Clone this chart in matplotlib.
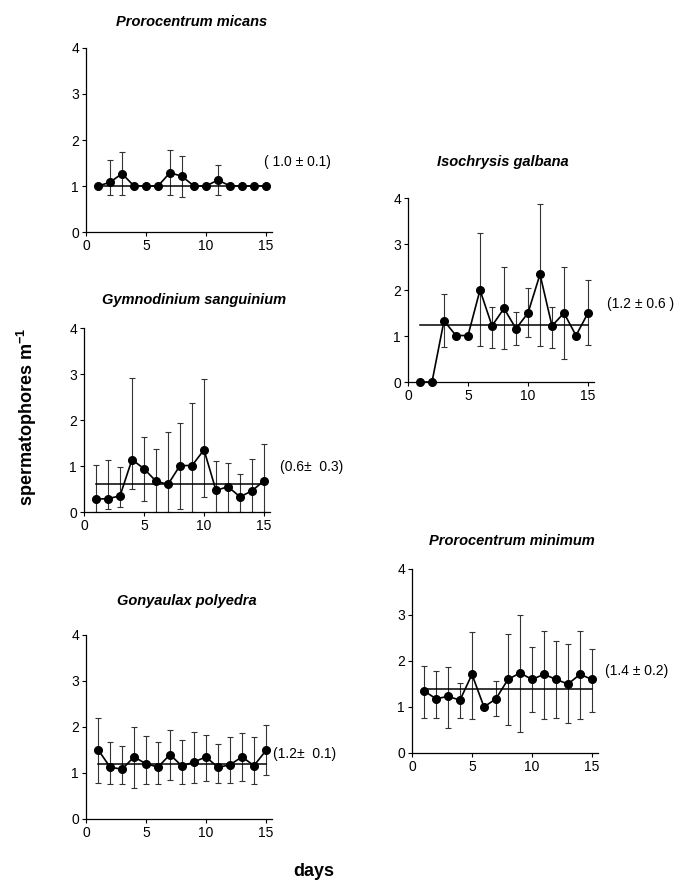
import matplotlib
matplotlib.use("Agg")
import matplotlib.pyplot as plt

plt.rcParams['font.family'] = ['Liberation Sans', 'DejaVu Sans']

days = list(range(1, 16))
x_ticks = [0, 5, 10, 15]
y_ticks = [0, 1, 2, 3, 4]

# Prorocentrum micans
micans_mean = [1.0, 1.08, 1.27, 1.0, 1.0, 1.0, 1.29, 1.21, 1.0, 1.0, 1.13, 1.0, 1.0, 1.0, 1.0]
micans_upper = [1.0, 1.57, 1.74, 1.0, 1.0, 1.0, 1.78, 1.65, 1.0, 1.0, 1.45, 1.0, 1.0, 1.0, 1.0]
micans_lower = [1.0, 0.8, 0.81, 1.0, 1.0, 1.0, 0.8, 0.76, 1.0, 1.0, 0.8, 1.0, 1.0, 1.0, 1.0]
micans_avg = 1.0

# Isochrysis galbana
galbana_mean = [0, 0, 1.33, 1.01, 1.01, 2.0, 1.22, 1.6, 1.16, 1.5, 2.34, 1.22, 1.5, 1.01, 1.5]
galbana_upper = [0, 0, 1.91, 1.01, 1.01, 3.24, 1.64, 2.5, 1.52, 2.04, 3.87, 1.64, 2.5, 1.01, 2.22]
galbana_lower = [0, 0, 0.77, 1.01, 1.01, 0.79, 0.75, 0.72, 0.8, 0.97, 0.78, 0.75, 0.5, 1.01, 0.8]
galbana_avg = 1.23

# Gymnodinium sanguinium
sang_mean = [0.28, 0.29, 0.35, 1.14, 0.94, 0.67, 0.6, 1.01, 1.01, 1.35, 0.47, 0.55, 0.33, 0.46, 0.68]
sang_upper = [1.02, 1.13, 0.98, 2.91, 1.64, 1.38, 1.73, 1.93, 2.36, 2.89, 1.11, 1.07, 0.82, 1.16, 1.47]
sang_lower = [0, 0.07, 0.11, 0.51, 0.23, 0, 0, 0.07, 0, 0.33, 0, 0, 0, 0, 0]
sang_avg = 0.6

# Prorocentrum minimum
minimum_mean = [1.35, 1.18, 1.23, 1.15, 1.71, 1.0, 1.18, 1.6, 1.74, 1.6, 1.71, 1.6, 1.5, 1.71, 1.6]
minimum_upper = [1.9, 1.78, 1.88, 1.52, 2.64, 1.0, 1.56, 2.58, 3.0, 2.3, 2.65, 2.44, 2.37, 2.65, 2.26]
minimum_lower = [0.76, 0.76, 0.54, 0.76, 0.75, 1.0, 0.8, 0.6, 0.46, 0.9, 0.75, 0.76, 0.65, 0.75, 0.9]
minimum_avg = 1.4

# Gonyaulax polyedra
poly_mean = [1.51, 1.13, 1.08, 1.35, 1.2, 1.13, 1.4, 1.15, 1.24, 1.35, 1.12, 1.18, 1.35, 1.16, 1.49]
poly_upper = [2.2, 1.67, 1.59, 1.99, 1.81, 1.67, 1.94, 1.71, 1.89, 1.83, 1.64, 1.78, 1.86, 1.78, 2.04]
poly_lower = [0.79, 0.76, 0.76, 0.68, 0.77, 0.77, 0.84, 0.77, 0.79, 0.82, 0.79, 0.79, 0.82, 0.76, 0.95]
poly_avg = 1.2

W, H = 679, 884
fig = plt.figure(figsize=(W / 100, H / 100), dpi=100)

panels = [
    # title, mean, upper, lower, avg, annotation, axes (left px, bottom px from top), title pos, annot pos (data)
    ("Prorocentrum micans", micans_mean, micans_upper, micans_lower, micans_avg,
     "( 1.0 \u00b1 0.1)", (86, 232), (192, 22), (14.8, 1.53)),
    ("Isochrysis galbana", galbana_mean, galbana_upper, galbana_lower, galbana_avg,
     "(1.2 \u00b1 0.6 )", (408, 382), (503, 162), (16.6, 1.7)),
    ("Gymnodinium sanguinium", sang_mean, sang_upper, sang_lower, sang_avg,
     "(0.6\u00b1  0.3)", (84, 512), (194, 300), (16.3, 0.98)),
    ("Prorocentrum minimum", minimum_mean, minimum_upper, minimum_lower, minimum_avg,
     "(1.4 \u00b1 0.2)", (412, 753), (512, 541), (16.1, 1.78)),
    ("Gonyaulax polyedra", poly_mean, poly_upper, poly_lower, poly_avg,
     "(1.2\u00b1  0.1)", (86, 819), (187, 601), (15.6, 1.41)),
]

ax_w, ax_h = 186, 184

for title, mean, upper, lower, avg, annot, (lx, by), (tx, ty), (axx, axy) in panels:
    ax = fig.add_axes([lx / W, (H - by) / H, ax_w / W, ax_h / H])
    yerr = [[m - lo for m, lo in zip(mean, lower)], [u - m for m, u in zip(mean, upper)]]
    ax.errorbar(days, mean, yerr=yerr, fmt='none', ecolor='#333333',
                elinewidth=0.8, capsize=2.2, capthick=0.8, clip_on=False, zorder=2)
    ax.plot([days[0], days[-1]], [avg, avg], color='black', lw=1.1, zorder=3)
    ax.plot(days, mean, color='black', lw=1.2, marker='o', markersize=5.5,
            clip_on=False, zorder=4)
    ax.set_xlim(0, 15.5)
    ax.set_ylim(0, 4)
    ax.set_xticks(x_ticks)
    ax.set_yticks(y_ticks)
    for s in ['top', 'right']:
        ax.spines[s].set_visible(False)
    for s in ['left', 'bottom']:
        ax.spines[s].set_linewidth(0.9)
    ax.tick_params(direction='out', length=3, width=0.8, labelsize=10, pad=2)
    ax.text(axx, axy, annot, fontsize=10, ha='left', va='center', clip_on=False)
    fig.text(tx / W, (H - ty) / H, title, fontsize=10.5, fontweight='bold',
             fontstyle='italic', ha='center', va='center')

fig.text(27 / W, (H - 417) / H, r"spermatophores m$^{\mathregular{-1}}$",
         rotation=90, fontsize=13, fontweight='bold', ha='center', va='center')
fig.text(314 / W, (H - 872) / H, "days", fontsize=13, fontweight='bold',
         ha='center', va='center')

fig.savefig("out.png", dpi=100)
